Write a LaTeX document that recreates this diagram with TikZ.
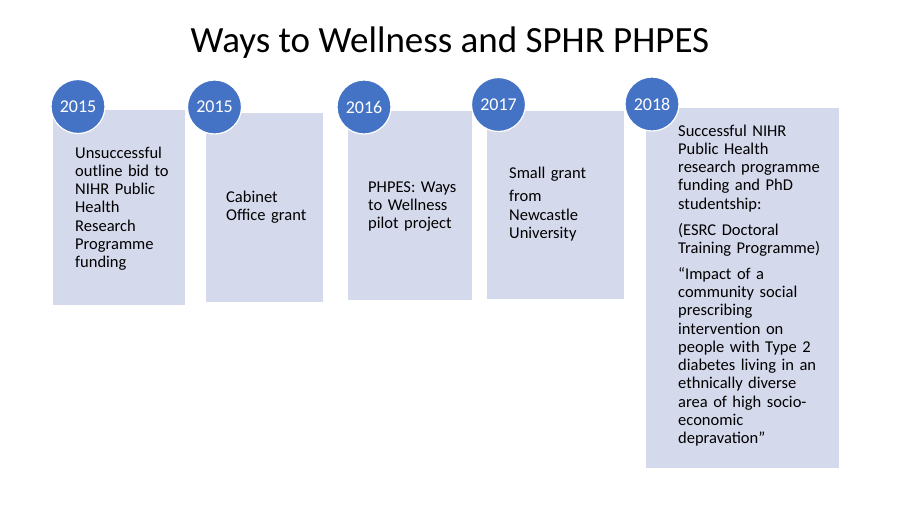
\documentclass[tikz,border=0pt]{standalone}
\usepackage{fontspec}
\setmainfont{Carlito}
\definecolor{boxfill}{RGB}{213,217,236}
\definecolor{yearblue}{RGB}{68,114,196}
\begin{document}
\begin{tikzpicture}[x=1pt,y=-1pt,
  box/.style={fill=boxfill, draw=none, inner sep=0pt, anchor=north west},
  yr/.style={circle, fill=yearblue, draw=white, line width=1.2pt, inner sep=0pt,
    minimum size=54pt, text=white, font=\fontsize{18}{20}\selectfont},
  txt/.style={anchor=base west, inner sep=0pt, align=left, text width=200pt,
    font=\fontsize{16.5}{18.3}\selectfont}]
\useasboundingbox (0,0) rectangle (900,506);
\node[anchor=base, inner sep=0pt, font=\fontsize{37}{40}\selectfont] (title) at (450,52) {Ways to Wellness and SPHR PHPES};
% boxes
\node[box, minimum width=132pt, minimum height=195pt] (b1) at (53,110) {};
\node[box, minimum width=117pt, minimum height=189pt] (b2) at (206,113) {};
\node[box, minimum width=124pt, minimum height=189pt] (b3) at (348,111) {};
\node[box, minimum width=137pt, minimum height=188pt] (b4) at (487,111) {};
\node[box, minimum width=193pt, minimum height=360pt] (b5) at (646,108) {};
% texts
\node[txt] (t1) at (75,158) {Unsuccessful\\outline bid to\\NIHR Public\\Health\\Research\\Programme\\funding};
\node[txt] (t2) at (226,202) {Cabinet\\Office grant};
\node[txt] (t3) at (368,192) {PHPES: Ways\\to Wellness\\pilot project};
\node[txt] (t4) at (509,178) {Small grant\\[5.5pt]from\\Newcastle\\University};
\node[txt] (t5) at (678,136) {Successful NIHR\\Public Health\\research programme\\funding and PhD\\studentship:\\[7.5pt](ESRC Doctoral\\Training Programme)\\[7.5pt]“Impact of a\\community social\\prescribing\\intervention on\\people with Type 2\\diabetes living in an\\ethnically diverse\\area of high socio-\\economic\\depravation”};
% year circles
\node[yr] (c1) at (78,106.5) {2015};
\node[yr] (c2) at (214.5,107) {2015};
\node[yr] (c3) at (364,107) {2016};
\node[yr] (c4) at (498.5,104.5) {2017};
\node[yr] (c5) at (652,104) {2018};
\end{tikzpicture}
\end{document}
